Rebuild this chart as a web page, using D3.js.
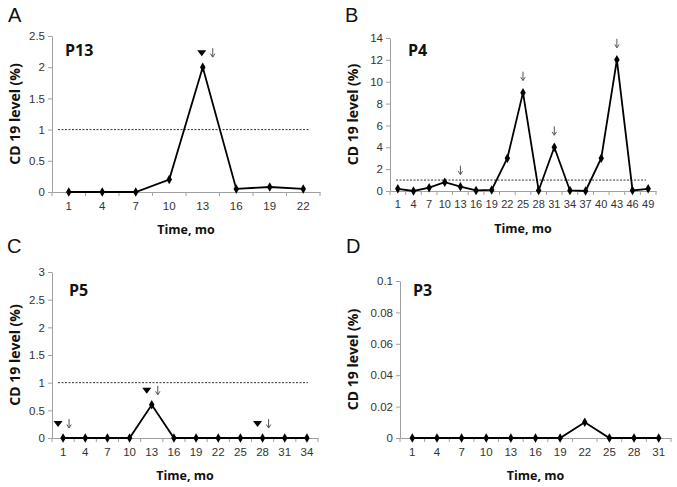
<!DOCTYPE html>
<html><head><meta charset="utf-8">
<script src="https://cdn.jsdelivr.net/npm/d3@7"></script>
<style>
body{margin:0;background:#fff;}
svg{display:block;font-family:"Open Sans","Noto Sans",sans-serif;}
</style></head>
<body><svg id="c" width="677" height="487"></svg>
<script>
// ---- data ----
const catsA = [1,4,7,10,13,16,19,22];
const valsA = [0,0,0,0.2,2,0.05,0.08,0.05];
const catsB = [1,4,7,10,13,16,19,22,25,28,31,34,37,40,43,46,49];
const valsB = [0.2,0,0.3,0.8,0.4,0.05,0.1,3,9,0.05,4,0.05,0,3,12,0.05,0.2];
const catsC = [1,4,7,10,13,16,19,22,25,28,31,34];
const valsC = [0,0,0,0,0.6,0,0,0,0,0,0,0];
const catsD = [1,4,7,10,13,16,19,22,25,28,31];
const valsD = [0,0,0,0,0,0,0,0.01,0,0,0];
const ticksA = [0,0.5,1,1.5,2,2.5];
const ticksB = [0,2,4,6,8,10,12,14];
const ticksC = [0,0.5,1,1.5,2,2.5,3];
const ticksD = [0,0.02,0.04,0.06,0.08,0.1];
const tickFmtD = ["0","0.02","0.04","0.06","0.08","0.1"];
// annotations: [category, value level where marker sits, hasTriangle]
const notesA = [[13, 2.0, true]];
const notesB = [[13, 0.4, false],[25, 9, false],[31, 4, false],[43, 12, false]];
const notesC = [[1, 0, true],[13, 0.6, true],[28, 0, true]];
const threshold = 1;

const svg = d3.select("#c");

function arrow(g, ax, yTop, yBot){
  g.append("line").attr("x1",ax).attr("x2",ax).attr("y1",yTop).attr("y2",yBot-0.5)
    .attr("stroke","#555").attr("stroke-width",1);
  g.append("path").attr("d",`M${ax-2.2},${yBot-3.5} L${ax},${yBot} L${ax+2.2},${yBot-3.5}`)
    .attr("fill","none").attr("stroke","#555").attr("stroke-width",1);
}

function panel(o){
  const g = svg.append("g");
  const x = d3.scaleBand().domain(o.cats).range([o.x0,o.x1]);
  const y = d3.scaleLinear().domain([0,o.ymax]).range([o.yb,o.yt]);
  const axisCol = "#a0a0a0";
  // panel letter
  g.append("text").attr("x",o.lx).attr("y",o.ly).attr("font-size",20).attr("fill","#111")
    .attr("font-family","Liberation Sans, Arial, sans-serif").text(o.letter);
  // y axis
  const ya = g.append("g").attr("transform",`translate(${o.x0},0)`)
    .call(d3.axisLeft(y).tickValues(o.ticks).tickSize(4).tickSizeOuter(0)
      .tickFormat((d,i)=> o.fmt ? o.fmt[i] : d3.format("")(d)));
  ya.select(".domain").attr("stroke",axisCol);
  ya.selectAll(".tick line").attr("stroke",axisCol);
  ya.selectAll(".tick text").attr("fill","#333").attr("font-size",11.5).attr("x",-7);
  // x axis
  const xa = g.append("g").attr("transform",`translate(0,${o.yb})`)
    .call(d3.axisBottom(x).tickSize(0).tickSizeOuter(0));
  xa.select(".domain").attr("stroke",axisCol);
  xa.selectAll(".tick text").attr("fill","#333").attr("font-size",o.xfs||11.5).attr("dy","1.3em");
  // x tick marks at band boundaries
  const bounds = o.cats.map(c=>x(c)).concat([o.x1]);
  g.selectAll(".xb").data(bounds).enter().append("line")
    .attr("x1",d=>d).attr("x2",d=>d).attr("y1",o.yb).attr("y2",o.yb+4).attr("stroke",axisCol);
  // axis titles
  g.append("text").attr("x",(o.x0+o.x1)/2).attr("y",o.yb+42).attr("text-anchor","middle")
    .attr("font-size",12.5).attr("font-weight","bold").attr("fill","#111").text("Time, mo");
  g.append("text").attr("transform",`translate(${o.x0-o.yto},${(o.yb+o.yt)/2}) rotate(-90)`)
    .attr("text-anchor","middle").attr("font-size",14).attr("font-weight","bold").attr("fill","#111")
    .text("CD 19 level (%)");
  // patient label
  g.append("text").attr("x",o.px).attr("y",o.py).attr("font-size",16).attr("font-weight","bold")
    .attr("fill","#111").text(o.pid);
  // threshold
  if (threshold <= o.ymax) {
    g.append("line").attr("x1",o.x0+6).attr("x2",o.x1-10).attr("y1",y(threshold)).attr("y2",y(threshold))
      .attr("stroke","#333").attr("stroke-width",1).attr("stroke-dasharray","2,1.5");
  }
  const cx = c => x(c)+x.bandwidth()/2;
  // line
  const pts = o.cats.map((c,i)=>[c,o.vals[i]]);
  g.append("path").datum(pts)
    .attr("d", d3.line().x(d=>cx(d[0])).y(d=>y(d[1])))
    .attr("fill","none").attr("stroke","#000").attr("stroke-width",1.8);
  g.selectAll(".pt").data(pts).enter().append("path")
    .attr("transform",d=>`translate(${cx(d[0])},${y(d[1])})`)
    .attr("d", d3.symbol(d3.symbolDiamond,26)).attr("fill","#000");
  // annotations
  (o.notes||[]).forEach(n=>{
    const px = cx(n[0]), py = y(n[1]);
    if (n[2]) {
      const tx = px + o.triDx, ty = py - 14;
      g.append("path").attr("d",`M${tx-4.5},${ty-3} L${tx+4.5},${ty-3} L${tx},${ty+3} Z`).attr("fill","#000");
      arrow(g, px + o.arrDx, py-19, py-10);
    } else {
      arrow(g, px, py-21, py-12);
    }
  });
}

panel({letter:"A",lx:8,ly:22,cats:catsA,vals:valsA,x0:52,x1:320,yt:36,yb:192,ymax:2.5,ticks:ticksA,pid:"P13",px:65,py:56,notes:notesA,yto:32,triDx:-1,arrDx:10});
panel({letter:"B",lx:345,ly:22,cats:catsB,vals:valsB,x0:390,x1:656,yt:38,yb:191,ymax:14,ticks:ticksB,pid:"P4",px:408,py:56,notes:notesB,xfs:11,yto:32});
panel({letter:"C",lx:7,ly:253,cats:catsC,vals:valsC,x0:52,x1:318,yt:272,yb:438,ymax:3,ticks:ticksC,pid:"P5",px:69,py:296,notes:notesC,yto:32,triDx:-5,arrDx:6});
panel({letter:"D",lx:346,ly:253,cats:catsD,vals:valsD,x0:400,x1:671,yt:281,yb:438,ymax:0.1,ticks:ticksD,fmt:tickFmtD,pid:"P3",px:413,py:296,notes:[],yto:42});
</script></body></html>
